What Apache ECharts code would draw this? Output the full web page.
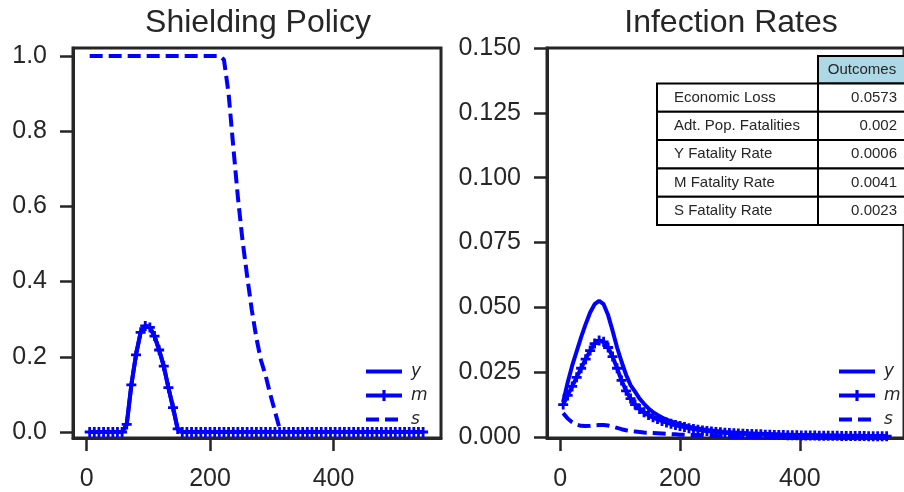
<!DOCTYPE html>
<html>
<head>
<meta charset="utf-8">
<script src="https://cdn.jsdelivr.net/npm/echarts@6/dist/echarts.min.js"></script>
<style>
  html, body { margin: 0; padding: 0; background: #fff; }
  #chart { width: 904px; height: 492px; }
</style>
</head>
<body>
<div id="chart"></div>
<script>
// time grid (days), one point per marker
const days = [5, 12.5, 20, 27.5, 35, 42.5, 50, 57.5, 65, 72.5, 80, 87.5, 95, 102.5, 110, 117.5,
  125, 132.5, 140, 147.5, 155, 162.5, 170, 177.5, 185, 192.5, 200, 207.5, 215, 222.5, 230, 237.5,
  245, 252.5, 260, 267.5, 275, 282.5, 290, 297.5, 305, 312.5, 320, 327.5, 335, 342.5, 350, 357.5,
  365, 372.5, 380, 387.5, 395, 402.5, 410, 417.5, 425, 432.5, 440, 447.5, 455, 462.5, 470, 477.5,
  485, 492.5, 500, 507.5, 515, 522.5, 530, 537.5, 545]

// shielding policy
const shieldM = [0, 0, 0, 0, 0, 0, 0, 0, 0.02, 0.125, 0.205, 0.265, 0.282, 0.278, 0.255, 0.218,
  0.175, 0.118, 0.065, 0.008, 0, 0, 0, 0, 0, 0, 0, 0, 0, 0, 0, 0,
  0, 0, 0, 0, 0, 0, 0, 0, 0, 0, 0, 0, 0, 0, 0, 0,
  0, 0, 0, 0, 0, 0, 0, 0, 0, 0, 0, 0, 0, 0, 0, 0,
  0, 0, 0, 0, 0, 0, 0, 0, 0]
const shieldY = shieldM.slice()
const shieldS = [1, 1, 1, 1, 1, 1, 1, 1, 1, 1, 1, 1, 1, 1, 1, 1,
  1, 1, 1, 1, 1, 1, 1, 1, 1, 1, 1, 1, 1, 0.99, 0.9, 0.76,
  0.625, 0.51, 0.415, 0.325, 0.25, 0.19, 0.15, 0.1, 0.055, 0.01, 0, 0, 0, 0, 0, 0,
  0, 0, 0, 0, 0, 0, 0, 0, 0, 0, 0, 0, 0, 0, 0, 0,
  0, 0, 0, 0, 0, 0, 0, 0, 0]

// infection rates
const infY = [0.0135, 0.021, 0.0275, 0.033, 0.0385, 0.0435, 0.048, 0.0512, 0.0525, 0.0512, 0.047, 0.041, 0.0345, 0.029, 0.024, 0.020,
  0.0175, 0.0148, 0.0128, 0.011, 0.0096, 0.0085, 0.0075, 0.0067, 0.006, 0.0054, 0.0049, 0.0044, 0.004, 0.0036, 0.0033, 0.003,
  0.0027, 0.0025, 0.0023, 0.0021, 0.0019, 0.0018, 0.0017, 0.0016, 0.0015, 0.0014, 0.0013, 0.0012, 0.0012, 0.0011, 0.0011, 0.001,
  0.001, 0.0009, 0.0009, 0.0009, 0.0008, 0.0008, 0.0008, 0.0007, 0.0007, 0.0007, 0.0006, 0.0006, 0.0006, 0.0006, 0.0005, 0.0005,
  0.0005, 0.0005, 0.0005, 0.0004, 0.0004, 0.0004, 0.0004, 0.0004, 0.0004]
const infM = [0.0125, 0.016, 0.0195, 0.023, 0.0265, 0.03, 0.0333, 0.036, 0.0372, 0.0367, 0.0345, 0.031, 0.0265, 0.0218, 0.0178, 0.0148,
  0.0125, 0.0108, 0.0095, 0.0085, 0.0076, 0.0069, 0.0062, 0.0056, 0.0051, 0.0046, 0.0042, 0.0038, 0.0034, 0.0031, 0.0028, 0.0025,
  0.0023, 0.0021, 0.0019, 0.0018, 0.0016, 0.0015, 0.0014, 0.0013, 0.0012, 0.0011, 0.0011, 0.001, 0.001, 0.0009, 0.0009, 0.0008,
  0.0008, 0.0008, 0.0007, 0.0007, 0.0007, 0.0006, 0.0006, 0.0006, 0.0006, 0.0005, 0.0005, 0.0005, 0.0005, 0.0005, 0.0004, 0.0004,
  0.0004, 0.0004, 0.0004, 0.0004, 0.0003, 0.0003, 0.0003, 0.0003, 0.0003]
const infS = [0.0092, 0.0071, 0.0057, 0.0048, 0.0043, 0.0042, 0.0043, 0.0045, 0.0046, 0.0046, 0.0044, 0.004, 0.0035, 0.003, 0.0026, 0.0023,
  0.0021, 0.0019, 0.0017, 0.0016, 0.0015, 0.0014, 0.0013, 0.0012, 0.0011, 0.001, 0.0009, 0.0009, 0.0008, 0.0008, 0.0008, 0.0007,
  0.0006, 0.0005, 0.0004, 0.0003, 0.0002, 0.0001, 0, 0, 0, 0, 0, 0, 0, 0, 0, 0,
  0, 0, 0, 0, 0, 0, 0, 0, 0, 0, 0, 0, 0, 0, 0, 0,
  0, 0, 0, 0, 0, 0, 0, 0, 0]

const xTicks = [0, 200, 400]
const shieldTicks = [0, 0.2, 0.4, 0.6, 0.8, 1.0]
const infTicks = [0, 0.025, 0.05, 0.075, 0.1, 0.125, 0.15]

const tableHeader = 'Outcomes'
const tableLabels = ['Economic Loss', 'Adt. Pop. Fatalities', 'Y Fatality Rate', 'M Fatality Rate', 'S Fatality Rate']
const tableValues = ['0.0573', '0.002', '0.0006', '0.0041', '0.0023']

const BLUE = '#0000ff'
const INK = '#262626'
const FONT = '"Liberation Sans", Arial, sans-serif'
const PLUS = 'path://M0,3.6L10,3.6L10,6.4L0,6.4Z M3.6,0L6.4,0L6.4,10L3.6,10Z'

const pairs = (vals) => days.map((d, i) => [d, vals[i]])

function xAxisFor(idx) {
  return {
    type: 'value', gridIndex: idx, min: -22, max: 574,
    axisLine: { show: true, onZero: false, lineStyle: { color: INK, width: 3 } },
    axisTick: { show: true, length: 13, customValues: xTicks, lineStyle: { color: INK, width: 2.5 } },
    axisLabel: { customValues: xTicks, margin: 29, fontSize: 25, color: INK, fontFamily: FONT },
    splitLine: { show: false },
  }
}

function yAxisFor(idx, min, max, ticks, digits) {
  return {
    type: 'value', gridIndex: idx, min: min, max: max,
    axisLine: { show: true, onZero: false, lineStyle: { color: INK, width: 3 } },
    axisTick: { show: true, length: 13, customValues: ticks, lineStyle: { color: INK, width: 2.5 } },
    axisLabel: {
      customValues: ticks, margin: 26, fontSize: 25, color: INK, fontFamily: FONT,
      formatter: (v) => v.toFixed(digits),
    },
    splitLine: { show: false },
  }
}

function lineSeries(name, idx, vals, kind) {
  const s = {
    name: name, type: 'line', xAxisIndex: idx, yAxisIndex: idx,
    data: pairs(vals), animation: false,
    lineStyle: { color: BLUE, width: 4 },
    itemStyle: { color: BLUE },
    symbol: 'none',
  }
  if (kind === 'm') {
    s.symbol = PLUS
    s.symbolSize = 10
    s.showAllSymbol = true
  }
  if (kind === 's') s.lineStyle.type = [13, 6]
  return s
}

function legendFor(left) {
  return {
    data: [
      { name: 'y', itemStyle: { opacity: 0 } },
      { name: 'm' },
      { name: 's', itemStyle: { opacity: 0 } },
    ],
    orient: 'vertical', left: left, top: 363, padding: 0,
    itemWidth: 36, itemHeight: 14, itemGap: 7, selectedMode: false,
    lineStyle: { width: 4 },
    textStyle: {
      fontSize: 17, fontStyle: 'italic', fontFamily: '"DejaVu Sans", sans-serif', color: INK,
      lineHeight: 14, padding: [0, 0, 0, 4],
    },
  }
}

// table drawn as graphic cells
const tableX = 657, labelW = 161, valueW = 88, headTop = 56, headH = 27.5, rowH = 28.3
const tableEls = []
tableEls.push({
  type: 'rect', shape: { x: tableX + labelW, y: headTop, width: valueW, height: headH },
  style: { fill: '#add8e6', stroke: '#000', lineWidth: 2 },
})
tableEls.push({
  type: 'text', x: tableX + labelW + valueW / 2, y: headTop + headH / 2,
  style: { text: tableHeader, align: 'center', verticalAlign: 'middle', font: '15px ' + FONT, fill: INK },
})
tableLabels.forEach((lab, i) => {
  const y = headTop + headH + i * rowH
  tableEls.push({
    type: 'rect', shape: { x: tableX, y: y, width: labelW, height: rowH },
    style: { fill: '#fff', stroke: '#000', lineWidth: 2 },
  })
  tableEls.push({
    type: 'rect', shape: { x: tableX + labelW, y: y, width: valueW, height: rowH },
    style: { fill: '#fff', stroke: '#000', lineWidth: 2 },
  })
  tableEls.push({
    type: 'text', x: tableX + 17, y: y + rowH / 2,
    style: { text: lab, align: 'left', verticalAlign: 'middle', font: '15px ' + FONT, fill: INK },
  })
  tableEls.push({
    type: 'text', x: tableX + labelW + valueW - 9, y: y + rowH / 2,
    style: { text: tableValues[i], align: 'right', verticalAlign: 'middle', font: '15px ' + FONT, fill: INK },
  })
})

const chart = echarts.init(document.getElementById('chart'))
chart.setOption({
  animation: false,
  backgroundColor: '#fff',
  grid: [
    { left: 73, top: 48, width: 368, height: 392, show: true, borderColor: INK, borderWidth: 3, backgroundColor: 'transparent' },
    { left: 547, top: 48, width: 368, height: 392, show: true, borderColor: INK, borderWidth: 3, backgroundColor: 'transparent' },
  ],
  xAxis: [xAxisFor(0), xAxisFor(1)],
  yAxis: [
    yAxisFor(0, -0.016, 1.021, shieldTicks, 1),
    yAxisFor(1, -0.0004, 0.15, infTicks, 3),
  ],
  legend: [legendFor(364), legendFor(837)],
  series: [
    lineSeries('y', 0, shieldY, 'y'),
    lineSeries('m', 0, shieldM, 'm'),
    lineSeries('s', 0, shieldS, 's'),
    lineSeries('y', 1, infY, 'y'),
    lineSeries('m', 1, infM, 'm'),
    lineSeries('s', 1, infS, 's'),
  ],
  graphic: [
    { type: 'text', x: 258, y: 23, style: { text: 'Shielding Policy', align: 'center', verticalAlign: 'middle', font: '32px ' + FONT, fill: INK } },
    { type: 'text', x: 731, y: 23, style: { text: 'Infection Rates', align: 'center', verticalAlign: 'middle', font: '32px ' + FONT, fill: INK } },
    { type: 'group', children: tableEls },
  ],
})
</script>
</body>
</html>
